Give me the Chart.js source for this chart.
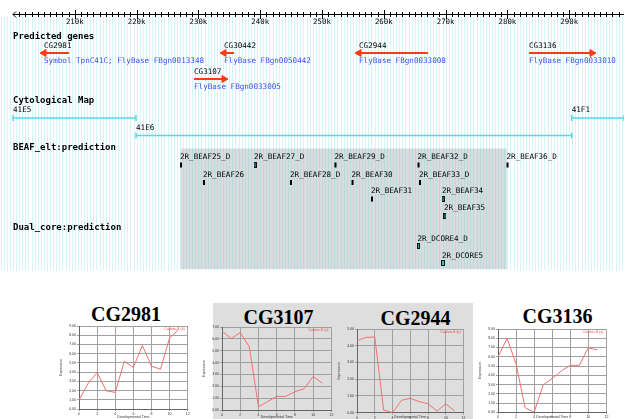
<!DOCTYPE html>
<html>
<head>
<meta charset="utf-8">
<script src="https://cdn.jsdelivr.net/npm/chart.js@4.4.1/dist/chart.umd.min.js"></script>
<style>
  body { margin: 0; background: #fff; width: 624px; height: 419px; overflow: hidden; position: relative; }
  canvas { position: absolute; }
  .panel { position: absolute; left: 213px; top: 303px; width: 260px; height: 116px; background: #dedede; }
  .ttl { position: absolute; font: bold 20px "Liberation Serif", "Times New Roman", serif; line-height: 20px;
         transform: translateX(-50%); white-space: nowrap; color: #000; }
</style>
</head>
<body>
<canvas id="browser" width="624" height="272" style="left:0;top:0"></canvas>
<div class="panel"></div>
<div id="exprHolder"></div>
<script>
// ---------- genome browser data ----------
const rulerTicks = [210000, 220000, 230000, 240000, 250000, 260000, 270000, 280000, 290000];
const rulerLabels = ["210k", "220k", "230k", "240k", "250k", "260k", "270k", "280k", "290k"];

const trackTitles = ["Predicted genes", "Cytological Map", "BEAF_elt:prediction", "Dual_core:prediction"];

const geneNames = ["CG2981", "CG30442", "CG3107", "CG2944", "CG3136"];
const geneStart = [205020, 234140, 229290, 255990, 283500];
const geneEnd = [209060, 235760, 234140, 267150, 293690];
const geneStrand = ["-", "-", "+", "-", "+"];
const geneLinks = ["Symbol TpnC41C; FlyBase FBgn0013348", "FlyBase FBgn0050442", "FlyBase FBgn0033005",
                   "FlyBase FBgn0033008", "FlyBase FBgn0033010"];
const geneLane = [0, 0, 1, 0, 0];

const bandNames = ["41E5", "41E6", "41F1"];
const bandStart = [200000, 219900, 290400];
const bandEnd = [219900, 290400, 298867];
const bandLane = [0, 1, 0];

const beafNames = ["2R_BEAF25_D", "2R_BEAF26", "2R_BEAF27_D", "2R_BEAF28_D", "2R_BEAF29_D", "2R_BEAF30",
                   "2R_BEAF31", "2R_BEAF32_D", "2R_BEAF33_D", "2R_BEAF34", "2R_BEAF35", "2R_BEAF36_D"];
const beafPos = [227180, 230900, 239160, 244980, 252180, 254940, 258090, 265620, 265860, 269580, 269900, 280020];
const beafLane = [0, 1, 0, 1, 0, 1, 2, 0, 1, 2, 3, 0];
const beafHit = [0, 0, 1, 0, 0, 0, 0, 0, 0, 1, 1, 0];

const dcoreNames = ["2R_DCORE4_D", "2R_DCORE5"];
const dcorePos = [265620, 269580];
const dcoreLane = [0, 1];
const dcoreHit = [1, 2];

const regionStart = 227130, regionEnd = 279890;

// ---------- expression profiles ----------
const devTime = [0, 1, 2, 3, 4, 5, 6, 7, 8, 9, 10, 11];
const exprGenes = ["CG2981", "CG3107", "CG2944", "CG3136"];
const exprCG2981 = [0.97, 2.77, 3.96, 1.98, 1.8, 5.18, 4.5, 6.9, 4.64, 4.32, 7.7, 8.6];
const exprCG3107 = [6.67, 6.02, 6.53, 5.32, 0.28, 0.7, 1.15, 1.15, 1.54, 1.79, 2.83, 2.27];
const exprCG2944 = [4.3, 4.5, 4.52, 0.16, 0, 0.74, 0.86, 0.66, 0.54, 0.1, 0.52, 0.1];
const exprCG3136 = [5.97, 7.99, 5.22, 0.5, 0, 2.95, 3.67, 4.46, 5.07, 5.07, 6.98, 6.73];
const exprMax = [9, 7, 5, 9];

// ---------- layout ----------
const X_MIN = 200000, X_MAX = 298867;
const TITLE_Y = [36.5, 100.5, 147.5, 228];
const GENE_Y = [53, 79];
const BAND_Y = [118, 135.5];
const BEAF_Y = [165, 182.5, 199, 216];
const DCORE_Y = [246, 263];
const BOX_TOP = 148.5, BOX_BOTTOM = 269;
const RED = "#ff3a10", CYAN = "#55d8e8", BLUE = "#3d4ff0";
const MONO = '"DejaVu Sans Mono", "Liberation Mono", monospace';

function markImage(w, h, fill) {
  const c = document.createElement("canvas");
  c.width = w; c.height = h;
  const g = c.getContext("2d");
  g.fillStyle = "#111";
  g.fillRect(0, 0, w, h);
  g.fillStyle = fill;
  g.fillRect(1, 1, w - 2, h - 2);
  return c;
}
const tealMark = markImage(3, 6, "#1fb0bc");
const tealWide = markImage(4, 6, "#2cc8d8");

const datasets = [];
geneNames.forEach((g, i) => {
  const y = GENE_Y[geneLane[i]];
  const minus = geneStrand[i] === "-";
  datasets.push({
    data: [{ x: geneStart[i], y: y }, { x: geneEnd[i], y: y }],
    showLine: true,
    borderColor: RED,
    borderWidth: 2,
    pointStyle: "triangle",
    pointRotation: minus ? -90 : 90,
    pointRadius: minus ? [4, 0] : [0, 4],
    pointBackgroundColor: RED,
    pointBorderColor: RED,
    pointBorderWidth: 1,
  });
});
bandNames.forEach((b, i) => {
  const y = BAND_Y[bandLane[i]];
  datasets.push({
    data: [{ x: bandStart[i], y: y }, { x: bandEnd[i], y: y }],
    showLine: true,
    borderColor: CYAN,
    borderWidth: 1.5,
    pointStyle: "line",
    pointRotation: 90,
    pointRadius: 3,
    pointBorderColor: CYAN,
    pointBorderWidth: 1.5,
  });
});
datasets.push({
  data: beafPos.map((p, i) => ({ x: p, y: BEAF_Y[beafLane[i]] })),
  showLine: false,
  pointStyle: beafHit.map((h) => (h ? tealMark : "line")),
  pointRotation: beafHit.map((h) => (h ? 0 : 90)),
  pointRadius: 2.5,
  pointBorderColor: "#000",
  pointBorderWidth: 2,
});
datasets.push({
  data: dcorePos.map((p, i) => ({ x: p, y: DCORE_Y[dcoreLane[i]] })),
  showLine: false,
  pointStyle: dcoreHit.map((h) => (h === 2 ? tealWide : tealMark)),
  pointRadius: 3,
});

// box, grid and ruler under the features
const browserBack = {
  id: "browserBack",
  beforeDatasetsDraw(chart) {
    const { ctx, scales: { x, y } } = chart;
    ctx.save();
    const bx0 = x.getPixelForValue(regionStart), bx1 = x.getPixelForValue(regionEnd);
    ctx.fillStyle = "#d9dcdc";
    ctx.fillRect(bx0, y.getPixelForValue(BOX_TOP), bx1 - bx0, y.getPixelForValue(BOX_BOTTOM) - y.getPixelForValue(BOX_TOP));

    ctx.strokeStyle = "rgba(120,215,235,0.3)";
    ctx.lineWidth = 1;
    for (let v = X_MIN - 2000; v <= X_MAX; v += 500) {
      const px = Math.round(x.getPixelForValue(v)) + 0.5;
      ctx.beginPath();
      ctx.moveTo(px, 17);
      ctx.lineTo(px, 270);
      ctx.stroke();
    }

    // ruler
    const ry = 14.5;
    const left = x.getPixelForValue(X_MIN);
    ctx.strokeStyle = "#000";
    ctx.beginPath();
    ctx.moveTo(left, ry);
    ctx.lineTo(chart.width, ry);
    ctx.moveTo(left + 3, ry - 3);
    ctx.lineTo(left, ry);
    ctx.lineTo(left + 3, ry + 3);
    for (let v = X_MIN + 1000; v < X_MAX; v += 1000) {
      const px = Math.round(x.getPixelForValue(v)) + 0.5;
      const major = v % 10000 === 0;
      ctx.moveTo(px, ry - (major ? 4.5 : 2.5));
      ctx.lineTo(px, ry + (major ? 4.5 : 2.5));
    }
    ctx.stroke();
    ctx.fillStyle = "#000";
    ctx.font = "7.4px " + MONO;
    ctx.textAlign = "center";
    ctx.textBaseline = "middle";
    rulerTicks.forEach((t, i) => ctx.fillText(rulerLabels[i], x.getPixelForValue(t), 22.5));
    ctx.restore();
  },
};

const browserText = {
  id: "browserText",
  afterDatasetsDraw(chart) {
    const { ctx, scales: { x, y } } = chart;
    ctx.save();
    ctx.textBaseline = "middle";
    ctx.textAlign = "left";
    ctx.fillStyle = "#000";
    ctx.font = "bold 9px " + MONO;
    trackTitles.forEach((t, i) => ctx.fillText(t, x.getPixelForValue(X_MIN), y.getPixelForValue(TITLE_Y[i])));

    ctx.font = "7.6px " + MONO;
    geneNames.forEach((g, i) => {
      const px = x.getPixelForValue(geneStart[i]);
      const gy = GENE_Y[geneLane[i]];
      ctx.fillStyle = "#000";
      ctx.fillText(g, px, y.getPixelForValue(gy - 6.5));
      ctx.fillStyle = BLUE;
      ctx.fillText(geneLinks[i], px, y.getPixelForValue(gy + 8));
    });
    ctx.fillStyle = "#000";
    bandNames.forEach((b, i) => {
      ctx.fillText(b, x.getPixelForValue(bandStart[i]), y.getPixelForValue(BAND_Y[bandLane[i]] - 7.5));
    });
    beafNames.forEach((b, i) => {
      ctx.fillText(b, x.getPixelForValue(beafPos[i]) - 1, y.getPixelForValue(BEAF_Y[beafLane[i]] - 7.5));
    });
    dcoreNames.forEach((b, i) => {
      ctx.fillText(b, x.getPixelForValue(dcorePos[i]) - 1, y.getPixelForValue(DCORE_Y[dcoreLane[i]] - 7));
    });
    ctx.restore();
  },
};

new Chart(document.getElementById("browser"), {
  type: "scatter",
  data: { datasets: datasets },
  options: {
    responsive: false,
    animation: false,
    events: [],
    devicePixelRatio: 1,
    layout: { autoPadding: false, padding: { left: 13, right: 0, top: 0, bottom: 0 } },
    scales: {
      x: { type: "linear", min: X_MIN, max: X_MAX, display: false },
      y: { type: "linear", min: 0, max: 272, reverse: true, display: false },
    },
    datasets: { scatter: { clip: false } },
    plugins: { legend: { display: false }, tooltip: { enabled: false } },
  },
  plugins: [browserBack, browserText],
});

// ---------- expression charts ----------
// plot area [left, top, right, bottom] and title centre, in page pixels
const exprPlots = [
  { plot: [79, 325.7, 187.7, 409], title: [126, 314] },
  { plot: [222.3, 326.7, 331.7, 410], title: [278.5, 316.7] },
  { plot: [356.7, 329, 463.3, 412.7], title: [415.5, 317.7] },
  { plot: [498.3, 329, 606.7, 412.3], title: [557.5, 315.7] },
];
const exprSeries = [exprCG2981, exprCG3107, exprCG2944, exprCG3136];

const cornerLegend = {
  id: "cornerLegend",
  afterDatasetsDraw(chart) {
    const { ctx, chartArea } = chart;
    ctx.save();
    ctx.font = "3.6px Arial, sans-serif";
    ctx.fillStyle = "#f04848";
    ctx.textAlign = "right";
    ctx.textBaseline = "middle";
    ctx.fillText(chart.data.datasets[0].label, chartArea.right - 3, chartArea.top + 3);
    ctx.restore();
  },
};

const holder = document.getElementById("exprHolder");
exprGenes.forEach((gene, i) => {
  const [pl, pt, pr, pb] = exprPlots[i].plot;
  const t = document.createElement("div");
  t.className = "ttl";
  t.textContent = gene;
  t.style.left = exprPlots[i].title[0] + "px";
  t.style.top = exprPlots[i].title[1] - 10 + "px";
  holder.appendChild(t);

  const yw = 20, padTop = 6;
  const cv = document.createElement("canvas");
  const left = pl - yw, top = pt - padTop;
  const w = Math.min(624, pr + 12) - left;
  const h = 419 - top;
  cv.width = Math.round(w);
  cv.height = Math.round(h);
  cv.style.left = left + "px";
  cv.style.top = top + "px";
  holder.appendChild(cv);
  const xh = h - (pb - top);

  new Chart(cv, {
    type: "line",
    data: {
      datasets: [{
        label: "Canton-S (x)",
        data: devTime.map((d, k) => ({ x: d, y: exprSeries[i][k] })),
        borderColor: "#f07070",
        borderWidth: 1,
        pointRadius: 0,
        tension: 0,
      }],
    },
    options: {
      responsive: false,
      animation: false,
      events: [],
      devicePixelRatio: 1,
      layout: { autoPadding: false, padding: { left: 0, top: padTop, right: cv.width - (pr - left), bottom: 0 } },
      scales: {
        x: {
          type: "linear", min: 0, max: 12,
          afterFit(s) { s.height = xh; },
          ticks: { stepSize: 2, font: { size: 3.5 }, color: "#333", padding: 1, maxRotation: 0 },
          grid: { color: "#a0a0a0", tickLength: 2 },
          border: { color: "#666" },
          title: { display: true, text: "Developmental Time", font: { size: 3.5 }, color: "#333", padding: 0 },
        },
        y: {
          min: 0, max: exprMax[i],
          afterFit(s) { s.width = yw; },
          ticks: { stepSize: 1, font: { size: 3.5 }, color: "#333", padding: 1, callback: (v) => v.toFixed(2) },
          grid: { color: "#a0a0a0", tickLength: 2 },
          border: { color: "#666" },
          title: { display: true, text: "Expression", font: { size: 3.5 }, color: "#333", padding: 0 },
        },
      },
      plugins: { legend: { display: false }, tooltip: { enabled: false } },
    },
    plugins: [cornerLegend],
  });
});
</script>
</body>
</html>
